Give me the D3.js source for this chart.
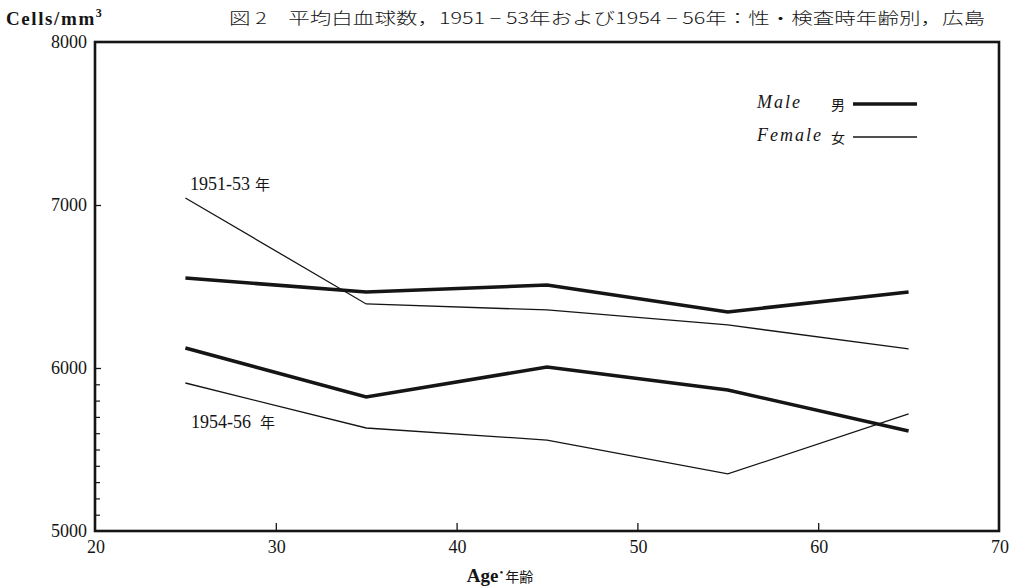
<!DOCTYPE html>
<html>
<head>
<meta charset="utf-8">
<script src="https://cdn.jsdelivr.net/npm/d3@7"></script>
<style>
  html, body { margin: 0; padding: 0; background: #ffffff; }
  svg { display: block; }
</style>
</head>
<body>
<svg id="chart" width="1016" height="588"></svg>
<script>
// Mean white blood cell counts (cells/mm^3) by age at examination
const ages = [25, 35, 45, 55, 65];
const male5153   = [6552, 6466, 6509, 6344, 6466];
const female5153 = [7043, 6393, 6356, 6264, 6117];
const male5456   = [6123, 5822, 6006, 5865, 5613];
const female5456 = [5908, 5632, 5558, 5350, 5718];

const xTicks = [20, 30, 40, 50, 60, 70];
const yTicks = [5000, 6000, 7000, 8000];
const yMinorTicks = [5100, 5200, 5300, 5400, 5500, 5600, 5700, 5800, 5900];

const serif = "Liberation Serif, DejaVu Serif, serif";
const cjk = "Noto Sans CJK JP, Noto Sans CJK SC, sans-serif";
const ink = "#151515";

const svg = d3.select("#chart");
const plotLeft = 95, plotRight = 999, plotTop = 42, plotBottom = 531;

const x = d3.scaleLinear().domain([20, 70]).range([plotLeft, plotRight]);
const y = d3.scaleLinear().domain([5000, 8000]).range([plotBottom, plotTop]);

// Axis ticks point inward from the frame
const xAxis = d3.axisBottom(x).tickValues(xTicks.slice(1, -1)).tickSize(-8).tickFormat("");
svg.append("g").attr("transform", `translate(0,${plotBottom})`).call(xAxis)
  .call(g => g.select(".domain").remove())
  .selectAll("line").attr("stroke", ink).attr("stroke-width", 1.3);

const yAxis = d3.axisLeft(y).tickValues([6000, 7000]).tickSize(-6).tickFormat("");
svg.append("g").attr("transform", `translate(${plotLeft},0)`).call(yAxis)
  .call(g => g.select(".domain").remove())
  .selectAll("line").attr("stroke", ink).attr("stroke-width", 1.3);

const yMinor = d3.axisLeft(y).tickValues(yMinorTicks).tickSize(-5).tickFormat("");
svg.append("g").attr("transform", `translate(${plotLeft},0)`).call(yMinor)
  .call(g => g.select(".domain").remove())
  .selectAll("line").attr("stroke", ink).attr("stroke-width", 1.2);

// Frame
svg.append("rect")
  .attr("x", plotLeft).attr("y", plotTop)
  .attr("width", plotRight - plotLeft).attr("height", plotBottom - plotTop)
  .attr("fill", "none").attr("stroke", ink).attr("stroke-width", 2.6);

// Tick labels
svg.append("g").selectAll("text").data(yTicks).join("text")
  .attr("x", plotLeft - 8).attr("y", d => y(d) + 6)
  .attr("text-anchor", "end")
  .attr("font-family", serif).attr("font-size", 18).attr("fill", ink)
  .text(d => d);

svg.append("g").selectAll("text").data(xTicks).join("text")
  .attr("x", d => x(d) + 1).attr("y", plotBottom + 22)
  .attr("text-anchor", "middle")
  .attr("font-family", serif).attr("font-size", 18).attr("fill", ink)
  .text(d => d);

// Data lines
const line = d3.line().x((d, i) => x(ages[i])).y(d => y(d));
const series = [
  { values: male5153, width: 3.6 },
  { values: female5153, width: 1.3 },
  { values: male5456, width: 3.6 },
  { values: female5456, width: 1.3 }
];
svg.append("g").selectAll("path").data(series).join("path")
  .attr("d", d => line(d.values))
  .attr("fill", "none").attr("stroke", ink)
  .attr("stroke-width", d => d.width)
  .attr("stroke-linejoin", "miter");

// Period annotations
const ann1 = svg.append("text").attr("x", 190).attr("y", 190)
  .attr("font-family", serif).attr("font-size", 18).attr("fill", ink);
ann1.append("tspan").text("1951-53");
ann1.append("tspan").attr("font-family", cjk).attr("font-size", 15).attr("dx", 5).text("年");
const ann2 = svg.append("text").attr("x", 191).attr("y", 428)
  .attr("font-family", serif).attr("font-size", 18).attr("fill", ink);
ann2.append("tspan").text("1954-56");
ann2.append("tspan").attr("font-family", cjk).attr("font-size", 15).attr("dx", 9).text("年");

// Legend
const legend = [
  { en: "Male", ja: "男", width: 3.6, y: 104 },
  { en: "Female", ja: "女", width: 1.3, y: 137 }
];
const lg = svg.append("g");
lg.selectAll("text.en").data(legend).join("text").attr("class", "en")
  .attr("x", 757).attr("y", d => d.y + 4)
  .attr("font-family", serif).attr("font-style", "italic").attr("font-size", 18)
  .attr("letter-spacing", 2).attr("fill", ink)
  .text(d => d.en);
lg.selectAll("text.ja").data(legend).join("text").attr("class", "ja")
  .attr("x", 831).attr("y", d => d.y + 6)
  .attr("font-family", cjk).attr("font-size", 14).attr("fill", ink)
  .text(d => d.ja);
lg.selectAll("line").data(legend).join("line")
  .attr("x1", 853).attr("x2", 917)
  .attr("y1", d => d.y).attr("y2", d => d.y)
  .attr("stroke", ink).attr("stroke-width", d => d.width);

// Unit label and title
const unit = svg.append("text").attr("x", 6).attr("y", 25)
  .attr("font-family", serif).attr("font-weight", "bold").attr("font-size", 19)
  .attr("letter-spacing", 1.6).attr("fill", ink);
unit.append("tspan").text("Cells/mm");
unit.append("tspan").attr("font-size", 12).attr("dy", -8).text("3");

svg.append("text").attr("x", 229).attr("y", 24)
  .attr("font-family", cjk).attr("font-weight", 300).attr("font-size", 16).attr("fill", ink)
  .attr("textLength", 756).attr("lengthAdjust", "spacingAndGlyphs")
  .text("図 2　平均白血球数，1951 − 53年および1954 − 56年：性・検査時年齢別，広島");

// X axis title
const xt = svg.append("text").attr("x", 500).attr("y", 582)
  .attr("text-anchor", "middle").attr("fill", ink);
xt.append("tspan").attr("font-family", serif).attr("font-weight", "bold").attr("font-size", 19).text("Age");
xt.append("tspan").attr("font-family", serif).attr("font-size", 11).attr("dy", -6).attr("dx", 1).text("•");
xt.append("tspan").attr("font-family", cjk).attr("font-size", 14).attr("dy", 6).attr("dx", 2).text("年齢");
</script>
</body>
</html>
